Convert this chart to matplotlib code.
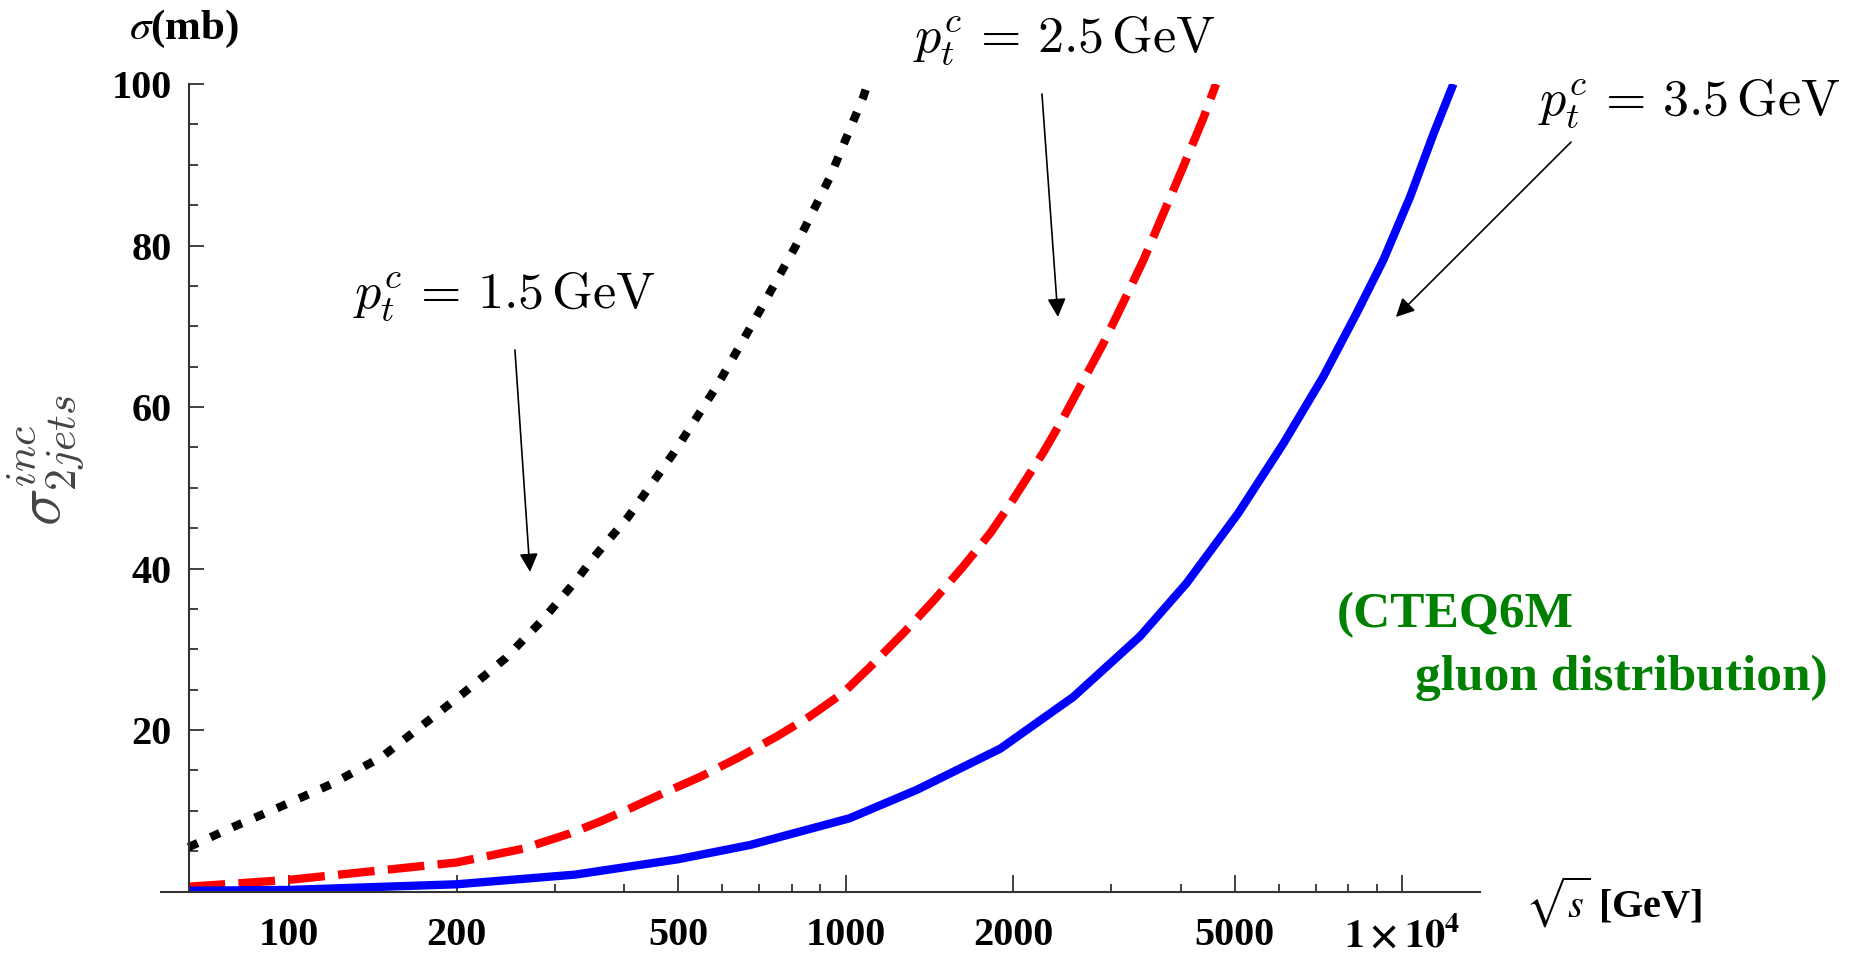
import numpy as np
import matplotlib.pyplot as plt
from matplotlib.ticker import FixedLocator, MultipleLocator, NullFormatter

plt.rcParams['mathtext.fontset'] = 'cm'

# sqrt(s) [GeV] and sigma_2jets^inc [mb]
sqrt_s_15 = [66, 80, 98, 120, 147, 173, 206, 245, 286, 327, 352, 407, 491, 586, 692, 813, 938, 1076, 1095]
sigma_15 = [5.5, 8.1, 10.7, 13.4, 16.7, 20.5, 24.6, 28.9, 33.7, 38.4, 41.3, 46.4, 54.3, 62.5, 71.2, 79.9, 88.5, 98.4, 100]

sqrt_s_25 = [66, 100, 200, 263, 320, 362, 410, 471, 548, 638, 752, 863, 990, 1106, 1270, 1438, 1629,
             1820, 1977, 2267, 2463, 2675, 2906, 3157, 3429, 3725, 4045, 4395, 4630]
sigma_25 = [0.6, 1.45, 3.6, 5.3, 7.2, 8.66, 10.3, 12.2, 14.2, 16.5, 19.2, 21.7, 24.6, 27.8, 32.0, 36.0, 40.3,
            44.4, 48.0, 54.4, 58.7, 63.3, 67.9, 73.0, 78.2, 84.0, 89.8, 95.8, 100]

sqrt_s_35 = [66, 100, 200, 327, 500, 674, 1016, 1343, 1897, 2565, 3380, 4100, 5070, 6120, 7220,
             8280, 9250, 10330, 11380, 12360]
sigma_35 = [0.1, 0.2, 0.9, 2.1, 4.0, 5.77, 9.07, 12.6, 17.7, 24.1, 31.6, 38.2, 46.8, 55.5, 63.8,
            71.6, 78.2, 86.0, 93.8, 100]

x_major = [100, 200, 500, 1000, 2000, 5000, 10000]
x_major_labels = ['100', '200', '500', '1000', '2000', '5000', r'$\mathbf{1\times10^{4}}$']
x_minor = [300, 400, 600, 700, 800, 900, 3000, 4000, 6000, 7000, 8000, 9000]
y_major = [20, 40, 60, 80, 100]

fig = plt.figure(figsize=(18.57, 9.6), dpi=100)
ax = fig.add_axes([0.0865, 0.0713, 0.7105, 0.8412])

ax.plot(sqrt_s_15, sigma_15, color='black', lw=6, dashes=(1.2, 1.7), dash_capstyle='butt')
ax.plot(sqrt_s_25, sigma_25, color='#ff0000', lw=6, dashes=(4.4, 1.6), dash_capstyle='butt')
ax.plot(sqrt_s_35, sigma_35, color='#0000ff', lw=6, solid_capstyle='butt')

ax.set_xscale('log')
ax.set_xlim(58.8, 13800)
ax.set_ylim(0, 100)

ax.spines['top'].set_visible(False)
ax.spines['right'].set_visible(False)
ax.spines['left'].set_position(('data', 66))
for s in ['left', 'bottom']:
    ax.spines[s].set_color('#333333')
    ax.spines[s].set_linewidth(1.5)

tick_font = dict(fontfamily='Liberation Serif', fontweight='bold', fontsize=29)
ax.xaxis.set_major_locator(FixedLocator(x_major))
ax.xaxis.set_minor_locator(FixedLocator(x_minor))
ax.xaxis.set_minor_formatter(NullFormatter())
ax.set_xticks(x_major, x_major_labels, math_fontfamily='stix', **tick_font)
ax.set_yticks(y_major, [str(v) for v in y_major], **tick_font)
ax.yaxis.set_minor_locator(MultipleLocator(5))

ax.tick_params(axis='x', which='major', direction='in', length=12.5, width=1.3, color='#333333', pad=18)
ax.tick_params(axis='x', which='minor', direction='in', length=5.5, width=1.3, color='#333333')
ax.tick_params(axis='y', which='major', direction='in', length=11, width=1.3, color='#333333', pad=12)
ax.tick_params(axis='y', which='minor', direction='in', length=6.5, width=1.3, color='#333333')

# axis titles
fig.text(0.0695, 0.959, r'$\sigma$(mb)', fontfamily='Liberation Serif', fontweight='bold',
         fontsize=31, math_fontfamily='stix', ha='left', va='baseline')
fig.text(0.0248, 0.5208, r'$\sigma_{2jets}^{inc}$', fontsize=45, color='#444444',
         rotation=90, ha='center', va='center')
fig.text(0.821, 0.044, r'$\sqrt{s}$ [GeV]', fontfamily='Liberation Serif', fontweight='bold',
         fontsize=29, math_fontfamily='stix', ha='left', va='baseline')

# curve labels
lab_size = 37.5
fig.text(0.190, 0.679, r'$p_t^c\,=\,1.5\,\mathrm{GeV}$', fontsize=lab_size, ha='left', va='baseline')
fig.text(0.4917, 0.9458, r'$p_t^c\,=\,2.5\,\mathrm{GeV}$', fontsize=lab_size, ha='left', va='baseline')
fig.text(0.828, 0.880, r'$p_t^c\,=\,3.5\,\mathrm{GeV}$', fontsize=lab_size, ha='left', va='baseline')

arrows = [((0.2773, 0.6354), (0.2854, 0.4042)),
          ((0.5611, 0.9021), (0.5697, 0.6698)),
          ((0.8460, 0.8520), (0.7517, 0.6698))]
for start, end in arrows:
    ax.annotate('', xy=end, xytext=start, xycoords='figure fraction', textcoords='figure fraction',
                annotation_clip=False,
                arrowprops=dict(arrowstyle='-|>', color='black', lw=1.2, mutation_scale=28,
                                shrinkA=0, shrinkB=0))

# PDF note
fig.text(0.720, 0.3469, '(CTEQ6M', color='#008000', fontfamily='Liberation Serif',
         fontweight='bold', fontsize=37, ha='left', va='baseline')
fig.text(0.762, 0.28125, 'gluon distribution)', color='#008000', fontfamily='Liberation Serif',
         fontweight='bold', fontsize=37, ha='left', va='baseline')

fig.savefig('out.png', dpi=100)
